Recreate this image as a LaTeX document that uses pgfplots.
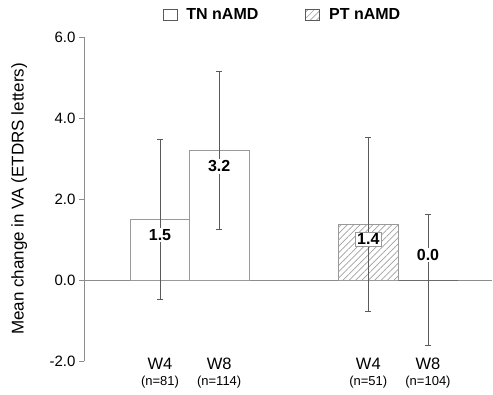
\documentclass[border=0pt]{standalone}
\usepackage{fontspec}
\setmainfont{Liberation Sans}
\usepackage{pgfplots}
\pgfplotsset{compat=1.18}
\usetikzlibrary{patterns.meta}
\definecolor{axgray}{HTML}{8C8C8C}
\definecolor{bargray}{HTML}{9A9A9A}
\definecolor{errgray}{HTML}{5A5A5A}
\definecolor{hatchgray}{HTML}{A0A0A0}
\pgfplotsset{
  mybar/.style={ybar, bar width=59.5, bar shift=0pt, line width=0.8pt, draw=bargray,
    nodes near coords={\pgfmathprintnumber[fixed,fixed zerofill,precision=1]{\pgfplotspointmeta}},
    every node near coord/.append style={font=\bfseries\fontsize{16}{18}\selectfont, fill=white, inner sep=1.5pt, anchor=center, text=black},
    error bars/y dir=both, error bars/y explicit,
    error bars/error bar style={errgray, line width=0.8pt},
    error bars/error mark options={rotate=90, errgray, mark size=3pt, line width=0.8pt}},
}
\begin{document}
\begin{tikzpicture}[x=1pt,y=1pt]
\path[use as bounding box] (0,0) rectangle (493,394);
\begin{axis}[
  at={(84pt,33pt)}, anchor=south west,
  scale only axis, width=408pt, height=324pt,
  xmin=0, xmax=408, ymin=-2, ymax=6,
  clip=false,
  axis y line*=left, axis x line*=bottom,
  x axis line style={draw=none},
  y axis line style={axgray, line width=0.8pt},
  tick align=outside, major tick length=5pt,
  ytick={-2,0,2,4,6},
  ytick style={axgray, line width=0.8pt},
  /pgf/number format/assume math mode=true,
  yticklabel style={/pgf/number format/fixed, /pgf/number format/fixed zerofill, /pgf/number format/precision=1, font=\fontsize{15}{17}\selectfont},
  xtick={76,135.2,284.3,344},
  xtick style={draw=none},
  xticklabels={{W4\\[-2.5pt]{\fontsize{13}{15}\selectfont(n=81)}},{W8\\[-2.5pt]{\fontsize{13}{15}\selectfont(n=114)}},{W4\\[-2.5pt]{\fontsize{13}{15}\selectfont(n=51)}},{W8\\[-2.5pt]{\fontsize{13}{15}\selectfont(n=104)}}},
  xticklabel style={align=center, font=\fontsize{16.5}{18}\selectfont, anchor=north, inner sep=0pt, yshift=8pt},
  ylabel={Mean change in VA (ETDRS letters)},
  ylabel style={font=\fontsize{17}{19}\selectfont, at={(axis description cs:-0.159,0.5)}, anchor=center},
  legend columns=2,
  legend style={at={(axis description cs:0.4865,1.068)}, anchor=center, draw=none, fill=none,
    font=\bfseries\fontsize{16}{18}\selectfont,
    /tikz/every even column/.append style={column sep=45pt}},
  legend image code/.code={\draw[#1, draw=black!65, line width=0.7pt] (0pt,-5.5pt) rectangle (14pt,5.5pt); \path (21pt,0pt);},
]
\addplot[axgray, line width=0.8pt, forget plot] coordinates {(0,0) (408,0)};
\addplot[mybar, fill=white, every node near coord/.append style={yshift=-16pt}]
  coordinates {(76,1.5) +- (0,1.98)};
\addlegendentry{TN nAMD}
\addplot[mybar, fill=white, forget plot, every node near coord/.append style={yshift=-16pt}]
  coordinates {(135.2,3.2) +- (0,1.96)};
\addplot[mybar, pattern={Lines[angle=45,distance=4.5pt,line width=0.7pt]}, pattern color=hatchgray,
  every node near coord/.append style={yshift=-15pt, draw=bargray, line width=0.8pt}]
  coordinates {(284.3,1.38) +- (0,2.15)};
\addlegendentry{PT nAMD}
\addplot[mybar, fill=white, draw=errgray, forget plot, every node near coord/.append style={yshift=25pt}]
  coordinates {(344,0.0) +- (0,1.61)};
\end{axis}
\end{tikzpicture}
\end{document}
